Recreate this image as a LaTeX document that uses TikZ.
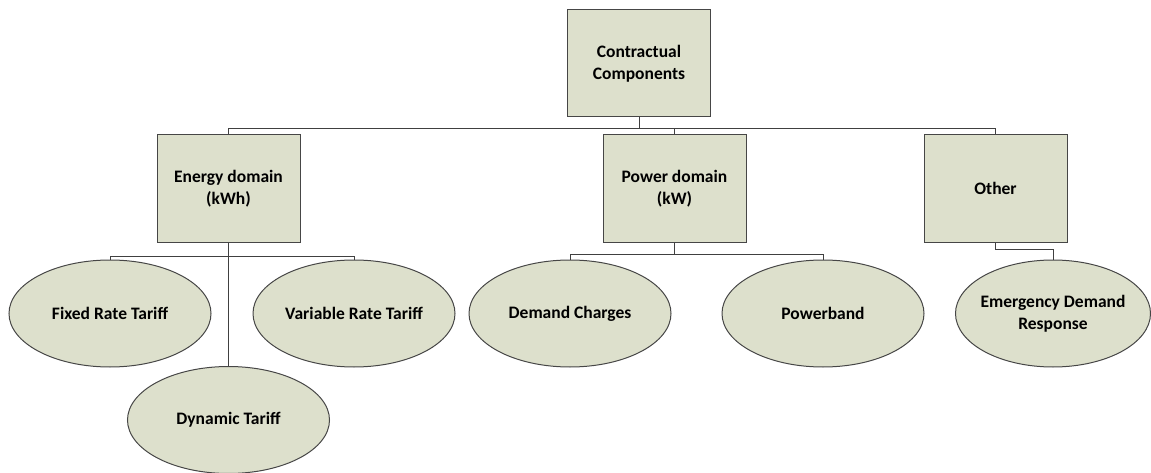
\documentclass[tikz,border=0pt]{standalone}
\usepackage{fontspec}
\setmainfont{Carlito}
\usetikzlibrary{shapes.geometric}
\definecolor{boxfill}{RGB}{221,224,204}
\definecolor{edge}{RGB}{70,70,70}
\tikzset{
  cbox/.style={draw=edge, line width=1pt, fill=boxfill, rectangle, minimum width=143pt, minimum height=107pt, inner sep=0pt, align=center, font=\fontsize{17.5}{22}\selectfont\bfseries},
  cell/.style={draw=edge, line width=1pt, fill=boxfill, ellipse, minimum width=202pt, minimum height=107pt, inner sep=0pt, align=center, font=\fontsize{17.5}{22}\selectfont\bfseries},
  conn/.style={draw=black!75, line width=1pt}
}
\begin{document}
\begin{tikzpicture}[x=1pt,y=-1pt]
\useasboundingbox (0,0) rectangle (1151,473);
\node[cbox] (top) at (639,63.5) {Contractual\\Components};
\node[cbox] (E) at (228.5,188.5) {Energy domain\\(kWh)};
\node[cbox] (P) at (674.5,188.5) {Power domain\\(kW)};
\node[cbox] (O) at (995.5,188.5) {Other};
\node[cell] (F) at (110,313.5) {Fixed Rate Tariff};
\node[cell] (V) at (354,313.5) {Variable Rate Tariff};
\node[cell] (D) at (228.5,420) {Dynamic Tariff};
\node[cell] (DC) at (570,313.5) {Demand Charges};
\node[cell] (PB) at (823,313.5) {Powerband};
\node[cell, minimum width=195pt, inner xsep=-8pt, inner ysep=-8pt] (EDR) at (1053,313.5) {Emergency Demand\\Response};
\draw[conn] (top.south) -- ++(0,11) -| (E.north);
\draw[conn] (top.south) -- ++(0,11) -| (P.north);
\draw[conn] (top.south) -- ++(0,11) -| (O.north);
\draw[conn] (E.south) -- ++(0,14) -| (F.north);
\draw[conn] (E.south) -- ++(0,14) -| (V.north);
\draw[conn] (E.south) -- (D.north);
\draw[conn] (P.south) -- ++(0,12) -| (DC.north);
\draw[conn] (P.south) -- ++(0,12) -| (PB.north);
\draw[conn] (O.south) -- ++(0,7) -| (EDR.north);
\end{tikzpicture}
\end{document}
